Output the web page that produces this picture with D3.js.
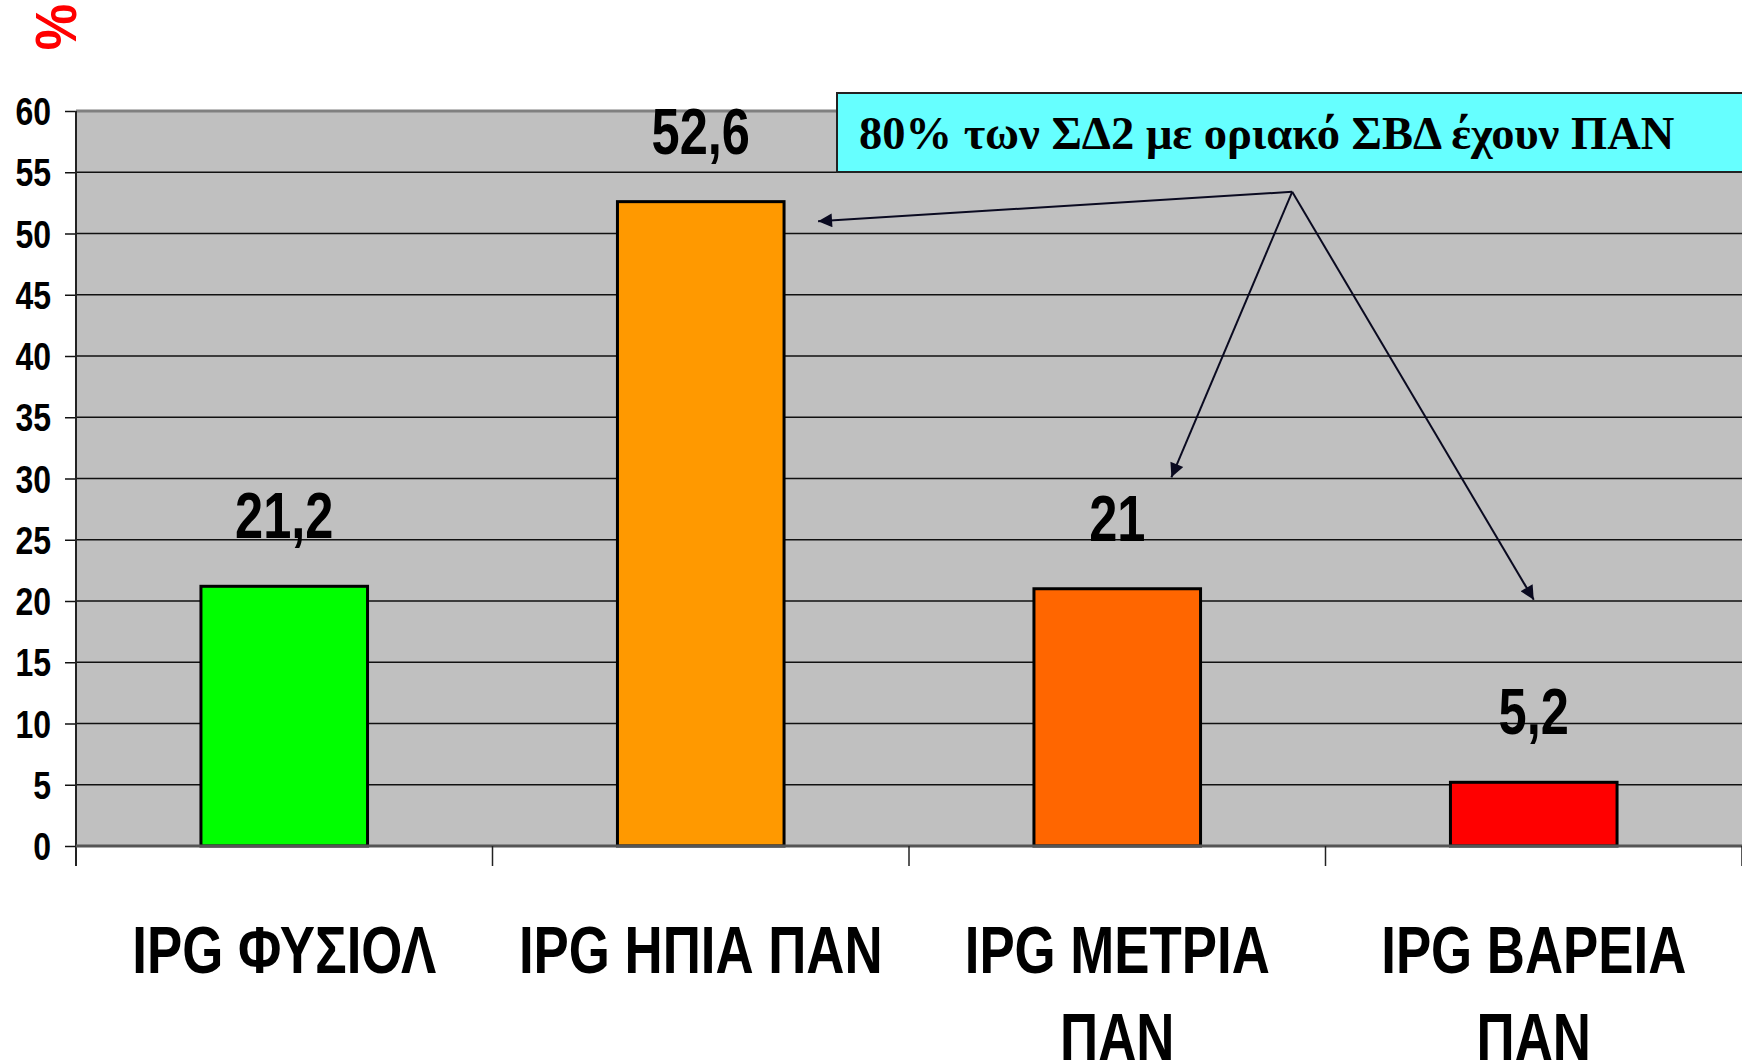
<!DOCTYPE html>
<html>
<head>
<meta charset="utf-8">
<script src="https://cdn.jsdelivr.net/npm/d3@7"></script>
<style>
  body { margin: 0; background: #fff; }
  svg { display: block; }
  .narrow { font-family: "Liberation Sans", Arial, sans-serif; font-weight: bold; }
</style>
</head>
<body>
<div id="chart"></div>
<script>
// chart data
const categories = ["IPG ΦΥΣΙΟΛ", "IPG ΗΠΙΑ ΠΑΝ", "IPG ΜΕΤΡΙΑ ΠΑΝ", "IPG ΒΑΡΕΙΑ ΠΑΝ"];
const labelLines = [["IPG ΦΥΣΙΟΛ"], ["IPG ΗΠΙΑ ΠΑΝ"], ["IPG ΜΕΤΡΙΑ", "ΠΑΝ"], ["IPG ΒΑΡΕΙΑ", "ΠΑΝ"]];
const values = [21.2, 52.6, 21, 5.2];
const valueLabels = ["21,2", "52,6", "21", "5,2"];
const barColors = ["#00ff00", "#ff9900", "#ff6600", "#ff0000"];
const yTicks = [0, 5, 10, 15, 20, 25, 30, 35, 40, 45, 50, 55, 60];
const noteText = "80% των ΣΔ2 με οριακό ΣΒΔ έχουν ΠΑΝ";

const width = 1742, height = 1064;
const margin = { top: 111, right: 0, bottom: 218, left: 76 };

const svg = d3.select("#chart").append("svg")
    .attr("width", width)
    .attr("height", height);

const x = d3.scaleBand()
    .domain(categories)
    .range([margin.left, width - margin.right])
    .paddingInner(0.6)
    .paddingOuter(0.3);

// band boundaries for category ticks
const step = x.step();
const xStart = margin.left;

const y = d3.scaleLinear()
    .domain([0, 60])
    .range([height - margin.bottom, margin.top]);

// no Arial Narrow installed, so squeeze Liberation Sans bold
function narrow(sel, px, py, k) {
    return sel.attr("class", "narrow")
        .attr("transform", `translate(${px},${py}) scale(${k || 0.82},1)`);
}

// plot area
svg.append("rect")
    .attr("x", margin.left)
    .attr("y", y(60))
    .attr("width", width - margin.right - margin.left)
    .attr("height", y(0) - y(60))
    .attr("fill", "#c0c0c0");

// gridlines
svg.append("g")
    .selectAll("line")
    .data(yTicks.filter(d => d > 0 && d < 60))
    .join("line")
    .attr("x1", margin.left)
    .attr("x2", width - margin.right)
    .attr("y1", d => y(d))
    .attr("y2", d => y(d))
    .attr("stroke", "#111")
    .attr("stroke-width", 1.3);

svg.append("line")
    .attr("x1", margin.left).attr("x2", width)
    .attr("y1", y(60)).attr("y2", y(60))
    .attr("stroke", "#808080").attr("stroke-width", 3);

// y axis
const yAxis = d3.axisLeft(y)
    .tickValues(yTicks)
    .tickSize(11)
    .tickFormat("");

const yg = svg.append("g")
    .attr("transform", `translate(${margin.left},0)`)
    .call(yAxis);
yg.select(".domain").remove();
yg.selectAll(".tick line").attr("stroke", "#111").attr("stroke-width", 1.5);

svg.append("g")
    .selectAll("text")
    .data(yTicks)
    .join("text")
    .each(function (d) { narrow(d3.select(this), 51, y(d) + 14); })
    .attr("text-anchor", "end")
    .attr("font-size", 39)
    .attr("fill", "#000")
    .text(d => d);

svg.append("line")
    .attr("x1", margin.left).attr("x2", margin.left)
    .attr("y1", y(60)).attr("y2", y(0) + 20)
    .attr("stroke", "#222").attr("stroke-width", 2);

// bars
svg.append("g")
    .selectAll("rect")
    .data(values)
    .join("rect")
    .attr("x", (d, i) => x(categories[i]))
    .attr("y", d => y(d))
    .attr("width", x.bandwidth())
    .attr("height", d => y(0) - y(d))
    .attr("fill", (d, i) => barColors[i])
    .attr("stroke", "#000")
    .attr("stroke-width", 3);

// x axis line and category ticks
svg.append("line")
    .attr("x1", margin.left).attr("x2", width)
    .attr("y1", y(0)).attr("y2", y(0))
    .attr("stroke", "#555").attr("stroke-width", 3);

svg.append("g")
    .selectAll("line")
    .data(d3.range(1, categories.length + 1))
    .join("line")
    .attr("x1", i => xStart + i * step)
    .attr("x2", i => xStart + i * step)
    .attr("y1", y(0))
    .attr("y2", y(0) + 20)
    .attr("stroke", "#222")
    .attr("stroke-width", 1.5);

// value labels
svg.append("g")
    .selectAll("text")
    .data(values)
    .join("text")
    .each(function (d, i) {
        narrow(d3.select(this), x(categories[i]) + x.bandwidth() / 2, y(d) - 48, 0.79);
    })
    .attr("text-anchor", "middle")
    .attr("font-size", 64)
    .text((d, i) => valueLabels[i]);

// category labels
const catG = svg.append("g");
labelLines.forEach((lines, i) => {
    const t = catG.append("text")
        .attr("text-anchor", "middle")
        .attr("font-size", 66);
    narrow(t, x(categories[i]) + x.bandwidth() / 2, 973, 0.8);
    lines.forEach((ln, j) => {
        t.append("tspan")
            .attr("x", 0)
            .attr("dy", j === 0 ? 0 : 87)
            .text(ln);
    });
});

// "%" axis title
svg.append("text")
    .attr("class", "narrow")
    .attr("transform", "translate(76,27) rotate(-90) scale(0.9,1)")
    .attr("text-anchor", "middle")
    .attr("font-size", 58)
    .attr("fill", "#ff0000")
    .text("%");

// annotation arrows
svg.append("defs").append("marker")
    .attr("id", "arrow")
    .attr("viewBox", "0 0 10 10")
    .attr("refX", 10).attr("refY", 5)
    .attr("markerWidth", 8).attr("markerHeight", 7)
    .attr("markerUnits", "strokeWidth")
    .attr("orient", "auto")
    .append("path")
    .attr("d", "M0,0 L10,5 L0,10 Z")
    .attr("fill", "#0a0a20");

const hub = [xStart + 2.92 * step, y(53.4)];
const targets = [
    [x(categories[1]) + x.bandwidth() + 34, y(51.0)],
    [xStart + 2.63 * step, y(30.1)],
    [xStart + 3.5 * step, y(20.1)]
];
svg.append("g")
    .selectAll("line")
    .data(targets)
    .join("line")
    .attr("x1", hub[0]).attr("y1", hub[1])
    .attr("x2", d => d[0]).attr("y2", d => d[1])
    .attr("stroke", "#0a0a20")
    .attr("stroke-width", 2)
    .attr("marker-end", "url(#arrow)");

// note box
svg.append("rect")
    .attr("x", 837).attr("y", 93)
    .attr("width", width - 837 + 2).attr("height", 79)
    .attr("fill", "#66ffff")
    .attr("stroke", "#222").attr("stroke-width", 2);

svg.append("text")
    .attr("x", 859).attr("y", 149)
    .attr("font-family", "'Liberation Serif', 'Times New Roman', serif")
    .attr("font-weight", "bold")
    .attr("font-size", 46.5)
    .attr("fill", "#000")
    .text(noteText);
</script>
</body>
</html>
